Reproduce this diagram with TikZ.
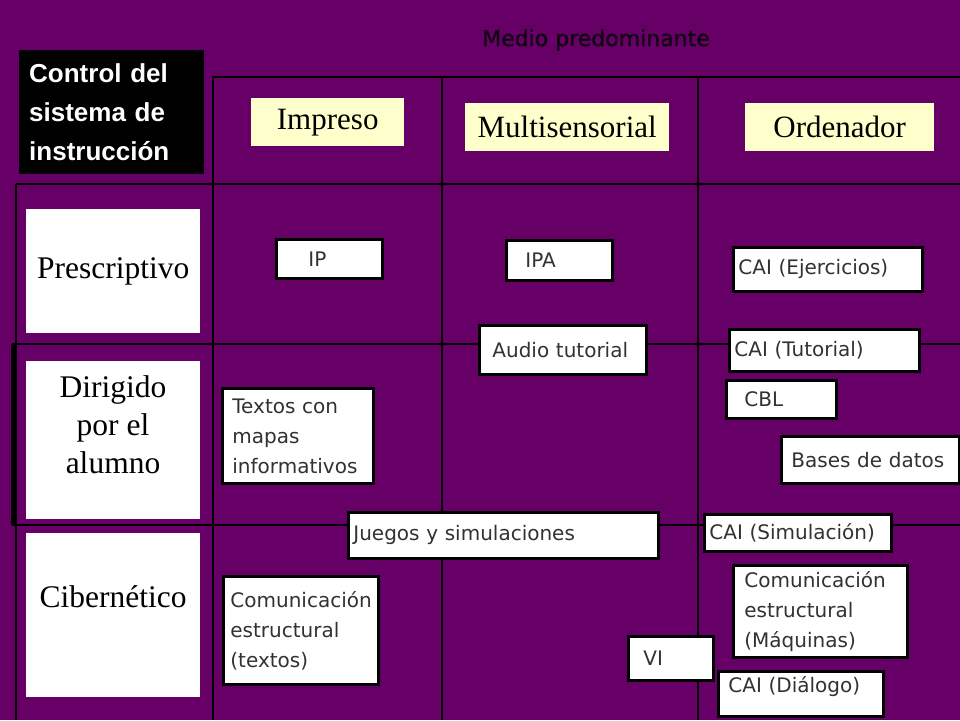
\documentclass[tikz,border=0pt]{standalone}
\usepackage{fontspec}
\setmainfont{Liberation Serif}
\newfontfamily\boxfont{DejaVu Sans}
\newfontfamily\mediofont[FakeBold=1.2]{DejaVu Sans}
\newfontfamily\ctrlfont{Liberation Sans}
\usepackage{xcolor}
\definecolor{fondo}{RGB}{102,0,102}
\definecolor{crema}{RGB}{255,255,204}
\definecolor{gristexto}{RGB}{50,50,50}
\definecolor{oscuro}{RGB}{20,0,20}
\begin{document}
\begin{tikzpicture}[x=1pt,y=-1pt,
  rejilla/.style={line width=2.6pt, black},
  cabecera/.style={fill=crema, anchor=north west, inner sep=0pt, minimum height=48pt, font=\fontsize{31}{36}\selectfont},
  fila/.style={fill=white, anchor=north west, inner sep=0pt, minimum width=174pt},
  etiqueta/.style={align=center, inner sep=0pt, font=\fontsize{31.5}{38}\selectfont},
  caja/.style={draw=black, line width=2.8pt, fill=white, anchor=north west, align=left, inner ysep=0pt, text=gristexto, font=\boxfont\fontsize{20}{30}\selectfont}]
\useasboundingbox (0,0) rectangle (960,720);
\fill[fondo] (0,0) rectangle (960,720);
%Straight Lines
\draw[rejilla] (212,77) -- (960,77);
\draw[rejilla] (16,184) -- (960,184);
\draw[rejilla] (12,344) -- (960,344);
\draw[rejilla] (12,525) -- (960,525);
\draw[rejilla] (16,184) -- (16,720);
\draw[rejilla, line width=3.4pt] (13,344) -- (13,525);
\draw[rejilla] (213,77) -- (213,720);
\draw[rejilla] (442,77) -- (442,720);
\draw[rejilla] (698,77) -- (698,720);
% Text Node
\node (medio) [anchor=west, inner sep=0pt, text=oscuro, font=\mediofont\fontsize{22}{26}\selectfont] at (482,40) {Medio predominante};
% Text Node
\node (control) [fill=black, anchor=north west, text width=165pt, inner xsep=10pt, minimum height=124pt, align=left, text=white, font=\ctrlfont\bfseries\fontsize{26}{39}\selectfont] at (19,50) {Control del\\sistema de\\instrucción};
% Text Node
\node (impreso) [cabecera, minimum width=153pt] at (251,98) {Impreso};
\node (multi) [cabecera, minimum width=204pt] at (465,103) {Multisensorial};
\node (orden) [cabecera, minimum width=189pt] at (745,103) {Ordenador};
% Text Node
\node (prescrip) [fila, minimum height=124pt, font=\fontsize{31.5}{38}\selectfont] at (26,209) {Prescriptivo};
\node (dirigido) [fila, minimum height=158pt] at (26,361) {};
\node (dirtexto) [etiqueta] at (113,425) {Dirigido\\por el\\alumno};
\node (ciber) [fila, minimum height=164pt] at (26,533) {};
\node (cibtexto) [etiqueta] at (113,597) {Cibernético};
% Text Node
\node (ip) [caja, text width=42pt, inner xsep=32pt, minimum height=39pt] at (275,238) {IP};
\node (ipa) [caja, text width=68pt, inner xsep=19pt, minimum height=40pt] at (505,239) {IPA};
\node (audio) [caja, text width=141pt, inner xsep=13pt, minimum height=49pt] at (478,324) {Audio tutorial};
\node (caiejer) [caja, text width=179pt, inner xsep=5pt, minimum height=44pt] at (732,246) {CAI (Ejercicios)};
\node (caitut) [caja, text width=180pt, inner xsep=5pt, minimum height=42pt] at (728,328) {CAI (Tutorial)};
\node (cbl) [caja, text width=74pt, inner xsep=18pt, minimum height=38pt] at (725,379) {CBL};
\node (bases) [caja, text width=158pt, inner xsep=10pt, minimum height=47pt] at (780,435) {Bases de datos};
\node (textos) [caja, text width=131pt, inner xsep=10pt, minimum height=95pt] at (221,387) {Textos con\\mapas\\informativos};
\node (juegos) [caja, text width=300pt, inner xsep=5pt, minimum height=46pt] at (347,511) {Juegos y simulaciones};
\node (caisim) [caja, text width=177pt, inner xsep=5pt, minimum height=37pt] at (703,513) {CAI (Simulación)};
\node (comtextos) [caja, text width=141pt, inner xsep=7pt, minimum height=108pt] at (222,575) {Comunicación\\estructural\\(textos)};
\node (commaq) [caja, text width=152pt, inner xsep=11pt, minimum height=92pt] at (732,564) {Comunicación\\estructural\\(Máquinas)};
\node (vi) [caja, text width=55pt, inner xsep=15pt, minimum height=44pt] at (627,635) {VI};
\node (caidia) [caja, text width=145pt, inner xsep=10pt, inner ysep=5pt, text depth=19pt] at (717,670) {CAI (Diálogo)};
\end{tikzpicture}
\end{document}
